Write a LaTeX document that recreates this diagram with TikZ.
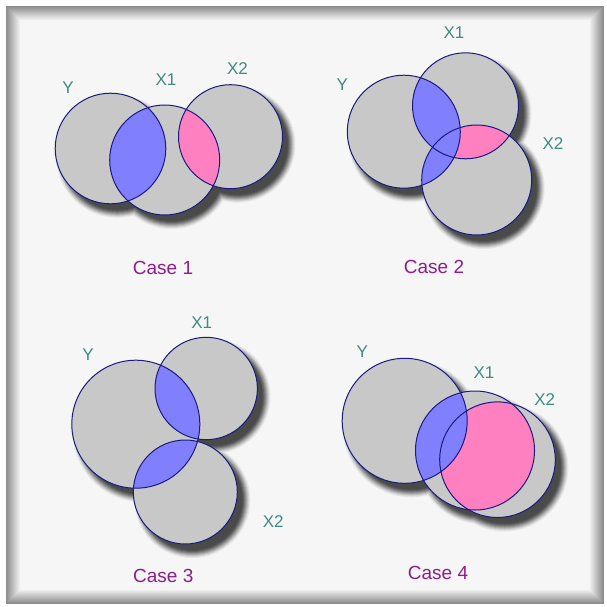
\documentclass[tikz,border=0pt]{standalone}
\usepackage{fontspec}
\setmainfont{Liberation Sans}
\definecolor{bgc}{HTML}{F6F6F6}
\definecolor{cfill}{HTML}{C8C8C8}
\definecolor{cline}{HTML}{1A1A80}
\definecolor{cblue}{HTML}{8080FF}
\definecolor{cpink}{HTML}{FF80C0}
\definecolor{lblc}{HTML}{3E8C82}
\definecolor{casec}{HTML}{8E1C8E}
\definecolor{shd}{HTML}{4A4A4A}
\tikzset{
  setlbl/.style={text=lblc,font=\fontsize{17}{19}\selectfont,inner sep=0pt},
  caselbl/.style={text=casec,font=\fontsize{19}{21}\selectfont,inner sep=0pt},
  circline/.style={draw=cline,line width=1pt},
}
% shadow of a set: #1 = list of (x,y,r)
\newcommand{\vshadow}[1]{%
  \foreach \k/\op in {6/8,5/18,4/30,3/44,2/58,1/72,0/85,-1/95,-2/100}{%
    \foreach \cx/\cy/\cr in {#1}{%
      \fill[shd!\op!bgc] (\cx+7,\cy+8) circle ({\cr+\k});
    }%
  }%
}
\begin{document}
\begin{tikzpicture}[x=1pt,y=-1pt]
\useasboundingbox (0,0) rectangle (606,607);
\fill[white] (0,0) rectangle (606,607);
% bevelled frame
\foreach \i in {0,...,14}{
  \pgfmathsetmacro{\mix}{90-\i*6.4}
  \fill[gray!\mix!bgc] (6+\i,6+\i) rectangle (604-\i,604-\i);
}
\fill[bgc] (21,21) rectangle (589,589);

% ---------- Case 1 ----------
\vshadow{110.5/148.5/55.3, 164.7/160/55, 230.5/136.7/52}
\node[circle,minimum size=110.6pt,fill=cfill] (y1) at (110.5,148.5) {};
\node[circle,minimum size=110pt,fill=cfill] (a1) at (164.7,160) {};
\node[circle,minimum size=104pt,fill=cfill] (b1) at (230.5,136.7) {};
\begin{scope}\clip (110.5,148.5) circle (55.3);\fill[cblue] (164.7,160) circle (55);\end{scope}
\begin{scope}\clip (164.7,160) circle (55);\fill[cpink] (230.5,136.7) circle (52);\end{scope}
\draw[circline] (110.5,148.5) circle (55.3);
\draw[circline] (164.7,160) circle (55);
\draw[circline] (230.5,136.7) circle (52);
\node[setlbl] (ly1) at (68,88) {Y};
\node[setlbl] (la1) at (166,80) {X1};
\node[setlbl] (lb1) at (237.5,69) {X2};
\node[caselbl] (c1) at (163,268) {Case 1};

% ---------- Case 2 ----------
\vshadow{403.8/131.7/56.5, 465.5/105.8/53, 476.7/180/55}
\node[circle,minimum size=113pt,fill=cfill] (y2) at (403.8,131.7) {};
\node[circle,minimum size=106pt,fill=cfill] (a2) at (465.5,105.8) {};
\node[circle,minimum size=110pt,fill=cfill] (b2) at (476.7,180) {};
\begin{scope}\clip (465.5,105.8) circle (53);\fill[cpink] (476.7,180) circle (55);\end{scope}
\begin{scope}\clip (403.8,131.7) circle (56.5);\fill[cblue] (465.5,105.8) circle (53);\fill[cblue] (476.7,180) circle (55);\end{scope}
\draw[circline] (403.8,131.7) circle (56.5);
\draw[circline] (465.5,105.8) circle (53);
\draw[circline] (476.7,180) circle (55);
\node[setlbl] (ly2) at (342.3,85) {Y};
\node[setlbl] (la2) at (454,33) {X1};
\node[setlbl] (lb2) at (553,144) {X2};
\node[caselbl] (c2) at (434,267) {Case 2};

% ---------- Case 3 ----------
\vshadow{135.8/424.2/64, 206.2/388.5/51.2, 185.3/492/52}
\node[circle,minimum size=128pt,fill=cfill] (y3) at (135.8,424.2) {};
\node[circle,minimum size=102.4pt,fill=cfill] (a3) at (206.2,388.5) {};
\node[circle,minimum size=104pt,fill=cfill] (b3) at (185.3,492) {};
\begin{scope}\clip (135.8,424.2) circle (64);\fill[cblue] (206.2,388.5) circle (51.2);\fill[cblue] (185.3,492) circle (52);\end{scope}
\draw[circline] (135.8,424.2) circle (64);
\draw[circline] (206.2,388.5) circle (51.2);
\draw[circline] (185.3,492) circle (52);
\node[setlbl] (ly3) at (88,355) {Y};
\node[setlbl] (la3) at (201.7,323) {X1};
\node[setlbl] (lb3) at (273.3,521.3) {X2};
\node[caselbl] (c3) at (163.3,575.7) {Case 3};

% ---------- Case 4 ----------
\vshadow{404.7/420.8/62.5, 475/450.5/59.5, 497.5/459.7/57.8}
\node[circle,minimum size=125pt,fill=cfill] (y4) at (404.7,420.8) {};
\node[circle,minimum size=119pt,fill=cfill] (a4) at (475,450.5) {};
\node[circle,minimum size=115.6pt,fill=cfill] (b4) at (497.5,459.7) {};
\begin{scope}\clip (475,450.5) circle (59.5);\fill[cpink] (497.5,459.7) circle (57.8);\end{scope}
\begin{scope}\clip (404.7,420.8) circle (62.5);\fill[cblue] (475,450.5) circle (59.5);\fill[cblue] (497.5,459.7) circle (57.8);\end{scope}
\draw[circline] (404.7,420.8) circle (62.5);
\draw[circline] (475,450.5) circle (59.5);
\draw[circline] (497.5,459.7) circle (57.8);
\node[setlbl] (ly4) at (362.3,351.3) {Y};
\node[setlbl] (la4) at (484,372.3) {X1};
\node[setlbl] (lb4) at (544.7,399.7) {X2};
\node[caselbl] (c4) at (438,573) {Case 4};
\end{tikzpicture}
\end{document}
